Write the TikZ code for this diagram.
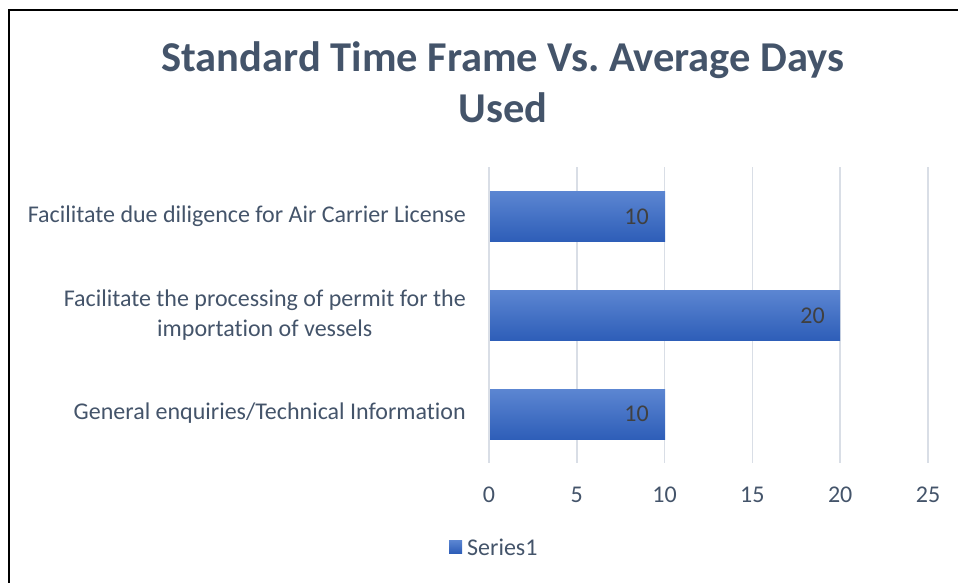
\documentclass[tikz,border=0pt]{standalone}
\usepackage{fontspec}
\setmainfont{Carlito}[Ligatures=NoCommon]
\frenchspacing
\definecolor{titlec}{RGB}{68,84,106}
\definecolor{axisc}{RGB}{68,84,106}
\definecolor{gridc}{RGB}{217,222,230}
\definecolor{bartop}{RGB}{92,134,210}
\definecolor{barbot}{RGB}{46,94,184}
\definecolor{valc}{RGB}{64,64,64}
\begin{document}
\begin{tikzpicture}[x=1pt,y=-1pt,
  titlestyle/.style={font=\fontsize{42.5}{50}\selectfont\bfseries, text=titlec, inner sep=0pt, anchor=center},
  catlabel/.style={font=\fontsize{24}{30}\selectfont, text=axisc, inner sep=0pt, anchor=east, align=center},
  ticklabel/.style={font=\fontsize{24}{28}\selectfont, text=axisc, inner sep=0pt, anchor=center},
  vallabel/.style={font=\fontsize{24}{28}\selectfont, text=valc, inner sep=0pt, anchor=east},
  gridline/.style={draw=gridc, line width=1.5pt},
  barbox/.style={top color=bartop, bottom color=barbot, draw=none},
  frame/.style={draw=black, line width=1.6pt}
]
\useasboundingbox (0,0) rectangle (958,582);
\begin{scope}
\clip (0,0) rectangle (958,582);
\draw[frame] (9,10) rectangle (990,620);
\end{scope}
% title
\node[titlestyle] (t1) at (503,60) {Standard Time Frame Vs. Average Days};
\node[titlestyle] (t2) at (503,108) {Used};
% grid
\foreach \v/\n in {0/g0,5/g5,10/g10,15/g15,20/g20,25/g25}{
  \coordinate (\n top) at ({489+\v*17.56},167);
  \coordinate (\n bot) at ({489+\v*17.56},463);
  \draw[gridline] (\n top) -- (\n bot);
  \node[ticklabel] (\n lab) at ({489+\v*17.56},495) {\v};
}
% bars
\fill[barbox] (490,191) rectangle (665,241);
\fill[barbox] (490,290) rectangle (840,340);
\fill[barbox] (490,389) rectangle (665,439);
\node[vallabel] (v1) at (649,217) {10};
\node[vallabel] (v2) at (825,316) {20};
\node[vallabel] (v3) at (649,414) {10};
% categories
\node[catlabel] (c1) at (466,216) {Facilitate due diligence for Air Carrier License};
\node[catlabel] (c2) at (466,315) {Facilitate the processing of permit for the\\importation of vessels};
\node[catlabel] (c3) at (466,413) {General enquiries/Technical Information};
% legend
\fill[barbox] (449,540) rectangle (462,553);
\node[font=\fontsize{24}{28}\selectfont, text=axisc, inner sep=0pt, anchor=west] (leg) at (467,547) {Series1};
\end{tikzpicture}
\end{document}
